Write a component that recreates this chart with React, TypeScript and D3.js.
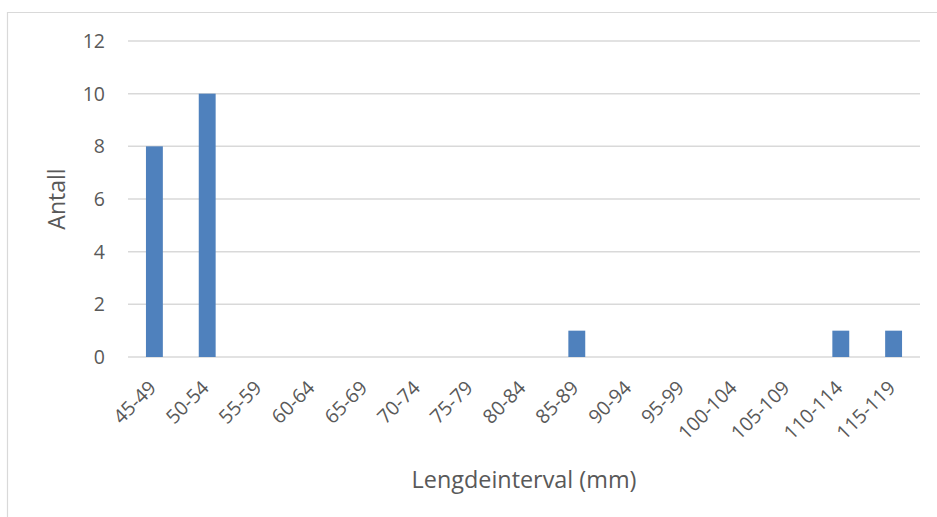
import React from "react";
import * as d3 from "d3";

const categories = ["45-49","50-54","55-59","60-64","65-69","70-74","75-79","80-84","85-89","90-94","95-99","100-104","105-109","110-114","115-119"];
const values = [8,10,0,0,0,0,0,0,1,0,0,0,0,1,1];
const yTicks = [0,2,4,6,8,10,12];

export default function App() {
  const W = 937, H = 517;
  const left = 128, right = 920, top = 41, bottom = 357;
  const x = d3.scaleBand<string>().domain(categories).range([left, right]).paddingInner(0.68).paddingOuter(0.34);
  const y = d3.scaleLinear().domain([0, 12]).range([bottom, top]);
  const font = "'Open Sans', 'Noto Sans', sans-serif";
  const textColor = "#595959";
  return (
    <svg width={W} height={H} style={{ position: "absolute", left: 0, top: 0 }}>
      <rect x={0} y={0} width={W} height={H} fill="#fff" />
      <line x1={7} y1={12.5} x2={W} y2={12.5} stroke="#d9d9d9" strokeWidth={1.2} />
      <line x1={7.5} y1={12} x2={7.5} y2={H} stroke="#d9d9d9" strokeWidth={1.2} />
      {yTicks.map(t => (
        <g key={t}>
          <line x1={left} x2={right} y1={y(t)} y2={y(t)} stroke="#d9d9d9" strokeWidth={1.5} />
          <text x={105} y={y(t)} dy="0.36em" textAnchor="end" fontFamily={font} fontSize={19.5} fill={textColor}>{t}</text>
        </g>
      ))}
      {categories.map((c, i) => (
        <rect key={c} x={x(c)!} y={y(values[i])} width={x.bandwidth()} height={y(0) - y(values[i])} fill="#4F81BD" />
      ))}
      {categories.map(c => {
        const cx = x(c)! + x.bandwidth() / 2;
        return (
          <text key={c} transform={`translate(${cx + 3},${389}) rotate(-45)`} textAnchor="end" fontFamily={font} fontSize={19.5} fill={textColor}>{c}</text>
        );
      })}
      <text transform={`translate(65,${(top + bottom) / 2}) rotate(-90)`} textAnchor="middle" fontFamily={font} fontSize={23} fill={textColor}>Antall</text>
      <text x={(left + right) / 2} y={488} textAnchor="middle" fontFamily={font} fontSize={23.4} fill={textColor}>Lengdeinterval (mm)</text>
    </svg>
  );
}
